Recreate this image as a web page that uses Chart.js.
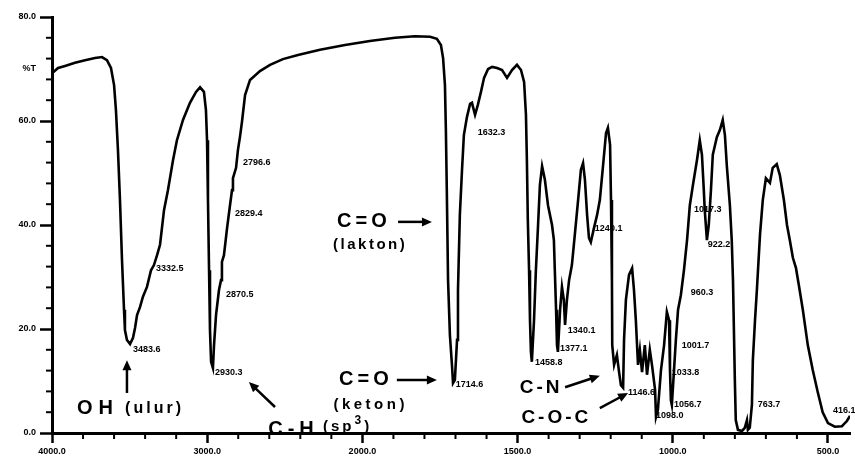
<!DOCTYPE html>
<html>
<head>
<meta charset="utf-8">
<script src="https://cdn.jsdelivr.net/npm/chart.js@4.4.1/dist/chart.umd.min.js"></script>
<style>
  html, body { margin: 0; padding: 0; background: #fff; }
</style>
</head>
<body>
<canvas id="ir-spectrum" width="855" height="465"></canvas>
<script>
/* ── Spectrum data (wavenumber cm-1, %T) ── */
var wavenumbers = [
  4000, 3961, 3916, 3852, 3787, 3723, 3678, 3646, 3620, 3600, 3588, 3575, 3562, 3549, 3536, 3530,
  3517, 3497, 3478, 3465, 3452, 3433, 3414, 3388, 3362, 3343, 3323, 3304, 3278, 3253, 3220, 3195,
  3156, 3111, 3072, 3046, 3021, 3008, 3001, 2995, 2988, 2982, 2975, 2963, 2956, 2943, 2924, 2911,
  2905, 2892, 2872, 2853, 2840, 2834, 2814, 2802, 2789, 2776, 2756, 2724, 2660, 2595, 2512, 2415,
  2273, 2112, 1976, 1895, 1831, 1782, 1760, 1747, 1740, 1734, 1731, 1728, 1724, 1718, 1711, 1708,
  1702, 1695, 1692, 1686, 1679, 1673, 1663, 1653, 1647, 1637, 1628, 1618, 1608, 1595, 1582, 1566,
  1550, 1534, 1518, 1502, 1489, 1479, 1473, 1470, 1467, 1463, 1460, 1457, 1454, 1447, 1441, 1434,
  1428, 1421, 1412, 1402, 1389, 1383, 1380, 1376, 1373, 1370, 1363, 1357, 1351, 1347, 1341, 1334,
  1325, 1315, 1305, 1296, 1289, 1283, 1276, 1270, 1264, 1254, 1244, 1235, 1225, 1215, 1209, 1202,
  1199, 1196, 1195, 1189, 1180, 1173, 1167, 1160, 1157, 1151, 1141, 1131, 1125, 1119, 1112, 1106,
  1099, 1090, 1083, 1074, 1067, 1057, 1054, 1048, 1038, 1028, 1019, 1012, 1009, 1006, 1003, 996,
  990, 983, 974, 964, 954, 945, 935, 922, 913, 906, 900, 897, 890, 884, 877, 871,
  858, 848, 839, 832, 826, 816, 810, 806, 803, 800, 797, 790, 777, 768, 761, 758,
  752, 745, 742, 735, 729, 719, 710, 700, 687, 678, 665, 655, 642, 632, 623, 613,
  603, 594, 581, 565, 549, 533, 517, 500, 478, 455, 439, 429
];
var transmittance = [
  69.2, 70.2, 70.6, 71.2, 71.7, 72.1, 72.3, 71.7, 70.2, 66.9, 62.1, 54.4, 44.8, 33.3, 23.7, 19.8,
  17.9, 17.1, 18.3, 20.2, 22.7, 24.2, 26.2, 28.1, 31.3, 32.3, 34.2, 36.2, 42.9, 46.7, 52.5, 56.3,
  60.2, 63.5, 65.6, 66.5, 65.6, 62.1, 56.3, 44.8, 31.3, 19.8, 13.7, 12.5, 16.9, 22.7, 27.5, 29.4,
  32.9, 34.2, 39.4, 43.8, 46.7, 49.0, 51.0, 54.4, 56.9, 59.8, 65.0, 67.9, 69.6, 70.8, 71.9, 72.7,
  73.7, 74.6, 75.4, 76.0, 76.3, 76.2, 75.8, 74.6, 72.1, 66.9, 58.3, 46.7, 29.4, 18.8, 12.7, 9.6,
  10.2, 17.9, 27.5, 41.9, 50.6, 57.3, 60.8, 63.3, 63.5, 61.2, 63.1, 65.6, 68.3, 70.0, 70.4, 70.2,
  69.8, 68.3, 69.8, 70.8, 69.8, 67.5, 61.2, 52.5, 41.0, 31.3, 21.7, 15.6, 13.7, 21.7, 31.3, 40.0,
  47.7, 51.3, 48.7, 43.8, 40.0, 37.1, 31.3, 23.7, 16.9, 15.6, 23.7, 28.1, 25.6, 20.8, 25.6, 29.4,
  32.3, 38.5, 44.8, 50.6, 51.9, 48.7, 41.9, 37.5, 36.7, 39.4, 41.9, 44.8, 51.2, 57.7, 58.7, 55.4,
  44.8, 29.4, 16.9, 13.1, 15.0, 11.7, 9.2, 8.7, 17.9, 25.6, 30.4, 31.7, 27.5, 21.7, 13.1, 16.0,
  11.7, 16.9, 11.2, 16.0, 13.1, 8.3, 3.1, 4.4, 12.1, 16.9, 23.3, 21.7, 12.1, 6.3, 5.4, 12.1,
  17.9, 23.7, 26.5, 31.3, 37.1, 43.8, 47.7, 52.5, 56.3, 53.5, 46.7, 42.9, 37.1, 40.0, 46.7, 53.5,
  56.9, 58.3, 60.2, 57.3, 51.5, 43.8, 37.1, 29.4, 19.8, 10.2, 2.5, 0.6, 0.4, 1.0, 2.5, 0.6,
  1.0, 5.4, 14.0, 21.7, 27.5, 38.1, 44.8, 49.0, 48.1, 51.0, 51.7, 49.6, 44.8, 40.0, 37.1, 33.7,
  31.7, 28.5, 23.7, 16.9, 12.1, 7.9, 4.0, 1.9, 1.2, 1.3, 2.3, 3.3
];

/* ── Axis ticks ── */
var xTickValues = [4000, 3000, 2000, 1500, 1000, 500];
var xMinorValues = [3800, 3600, 3400, 3200, 2800, 2600, 2400, 2200, 1900, 1800, 1700, 1600,
                    1400, 1300, 1200, 1100, 900, 800, 700, 600];
var yTickValues = [0, 20, 40, 60, 70, 80];
var yTickLabels = ['0.0', '20.0', '40.0', '60.0', '%T', '80.0'];
var yMinorValues = [4, 8, 12, 16, 24, 28, 32, 36, 44, 48, 52, 56, 64, 68, 72, 76];

/* ── Peak labels printed on the trace ── */
var peakText = ['3483.6', '3332.5', '2930.3', '2870.5', '2829.4', '2796.6', '1632.3', '1714.6',
                '1458.8', '1377.1', '1340.1', '1240.1', '1146.6', '1098.0', '1056.7', '1033.8',
                '1001.7', '960.3', '1017.3', '922.2', '763.7', '416.1'];
var peakWn   = [3478, 3330, 2950, 2879, 2821, 2769, 1628, 1699, 1444, 1363, 1338, 1251,
                1144, 1054, 996, 1003, 971, 942, 932, 887, 726, 484];
var peakT    = [16.0, 31.7, 11.7, 26.7, 42.3, 52.1, 57.7, 9.4, 13.5, 16.2, 19.8, 39.4,
                7.7, 3.3, 5.4, 11.7, 16.9, 27.1, 42.9, 36.2, 5.4, 4.4];

// the recorder expands the scale 2x below 2000 cm-1
function toPos(wn) {
    return wn >= 2000 ? (4000 - wn) / 1000 : 2 + (2000 - wn) / 500;
}
function fromPos(p) {
    return p <= 2 ? 4000 - p * 1000 : 2000 - (p - 2) * 500;
}

var points = wavenumbers.map(function (wn, i) {
    return { x: toPos(wn), y: transmittance[i] };
});

/* ── Band assignments (big hand lettering) ── */
var bandNotes = [
    { text: 'C=O', wn: 2003, t: 40.6, size: 20, gap: 4 },
    { text: '(lakton)', wn: 1979, t: 36.2, size: 15, gap: 2.5 },
    { text: 'OH', wn: 3723, t: 4.8, size: 20, gap: 6 },
    { text: '(ulur)', wn: 3349, t: 4.6, size: 16, gap: 3 },
    { text: 'C-H', wn: 2460, t: 0.6, size: 20, gap: 5 },
    { text: 'C=O', wn: 1995, t: 10.2, size: 20, gap: 4 },
    { text: '(keton)', wn: 1979, t: 5.4, size: 15, gap: 3.5 },
    { text: 'C-N', wn: 1429, t: 8.7, size: 19, gap: 3 },
    { text: 'C-O-C', wn: 1380, t: 2.9, size: 19, gap: 3 }
];
var bandArrows = [
    { from: [1885, 40.6], to: [1776, 40.6] },
    { from: [3517, 7.7], to: [3517, 14.0] },
    { from: [2563, 5.0], to: [2731, 9.8] },
    { from: [1889, 10.2], to: [1760, 10.2] },
    { from: [1347, 8.8], to: [1235, 11.0] },
    { from: [1235, 4.8], to: [1144, 7.7] }
];

function drawArrow(ctx, x1, y1, x2, y2) {
    var a = Math.atan2(y2 - y1, x2 - x1), L = 10, W = 4.5;
    ctx.beginPath();
    ctx.moveTo(x1, y1);
    ctx.lineTo(x2 - Math.cos(a) * L * 0.8, y2 - Math.sin(a) * L * 0.8);
    ctx.stroke();
    ctx.beginPath();
    ctx.moveTo(x2, y2);
    ctx.lineTo(x2 - Math.cos(a) * L - Math.sin(a) * W, y2 - Math.sin(a) * L + Math.cos(a) * W);
    ctx.lineTo(x2 - Math.cos(a) * L + Math.sin(a) * W, y2 - Math.sin(a) * L - Math.cos(a) * W);
    ctx.closePath();
    ctx.fill();
}

var spectrumNotes = {
    id: 'spectrumNotes',
    afterDatasetsDraw: function (chart) {
        var ctx = chart.ctx, xs = chart.scales.x, ys = chart.scales.y;
        var px = function (wn) { return xs.getPixelForValue(toPos(wn)); };
        var py = function (t) { return ys.getPixelForValue(t); };
        ctx.save();
        ctx.fillStyle = '#000';
        ctx.strokeStyle = '#000';

        // minor ticks
        ctx.lineWidth = 2;
        xMinorValues.forEach(function (wn) {
            var x = px(wn);
            ctx.beginPath(); ctx.moveTo(x, ys.bottom - 1); ctx.lineTo(x, ys.bottom + 6); ctx.stroke();
        });
        yMinorValues.forEach(function (t) {
            var y = py(t);
            ctx.beginPath(); ctx.moveTo(xs.left - 6, y); ctx.lineTo(xs.left + 1, y); ctx.stroke();
        });

        // peak labels
        ctx.font = 'bold 9px "Liberation Sans", Arial, sans-serif';
        ctx.textAlign = 'left';
        ctx.textBaseline = 'middle';
        peakText.forEach(function (s, i) {
            ctx.fillText(s, px(peakWn[i]), py(peakT[i]));
        });

        // band assignments
        ctx.textAlign = 'center';
        bandNotes.forEach(function (n) {
            ctx.font = 'bold ' + n.size + 'px "Liberation Sans", Arial, sans-serif';
            ctx.letterSpacing = n.gap + 'px';
            ctx.fillText(n.text, px(n.wn) + n.gap / 2, py(n.t));
        });

        // (sp3) with raised 3
        ctx.textAlign = 'left';
        ctx.letterSpacing = '3px';
        ctx.font = 'bold 15px "Liberation Sans", Arial, sans-serif';
        var sx = px(2254), sy = py(1.2);
        ctx.fillText('(sp', sx, sy);
        sx += ctx.measureText('(sp').width;
        ctx.font = 'bold 12px "Liberation Sans", Arial, sans-serif';
        ctx.fillText('3', sx, sy - 6);
        sx += ctx.measureText('3').width;
        ctx.font = 'bold 15px "Liberation Sans", Arial, sans-serif';
        ctx.fillText(')', sx, sy);
        ctx.letterSpacing = '0px';

        ctx.lineWidth = 2.5;
        bandArrows.forEach(function (a) {
            drawArrow(ctx, px(a.from[0]), py(a.from[1]), px(a.to[0]), py(a.to[1]));
        });
        ctx.restore();
    }
};

new Chart(document.getElementById('ir-spectrum').getContext('2d'), {
    type: 'scatter',
    data: {
        datasets: [{
            data: points,
            showLine: true,
            borderColor: '#000',
            borderWidth: 2.6,
            pointRadius: 0,
            tension: 0
        }]
    },
    options: {
        responsive: false,
        animation: false,
        layout: { padding: { top: 17, right: 5, left: 0, bottom: 0 } },
        plugins: { legend: { display: false }, tooltip: { enabled: false } },
        scales: {
            x: {
                type: 'linear',
                min: 0,
                max: 5.142,
                afterBuildTicks: function (scale) {
                    scale.ticks = xTickValues.map(function (wn) { return { value: toPos(wn) }; });
                },
                afterFit: function (scale) { scale.height = 32; },
                ticks: {
                    autoSkip: false,
                    maxRotation: 0,
                    padding: 3,
                    color: '#000',
                    font: { family: '"Liberation Sans", Arial, sans-serif', size: 9, weight: 'bold' },
                    callback: function (v) { return Math.round(fromPos(v)).toFixed(1); }
                },
                grid: { drawOnChartArea: false, tickLength: 10, tickWidth: 2.5, tickColor: '#000' },
                border: { color: '#000', width: 3 }
            },
            y: {
                min: 0,
                max: 80,
                afterBuildTicks: function (scale) {
                    scale.ticks = yTickValues.map(function (v) { return { value: v }; });
                },
                afterFit: function (scale) { scale.width = 52; },
                ticks: {
                    autoSkip: false,
                    padding: 4,
                    color: '#000',
                    font: { family: '"Liberation Sans", Arial, sans-serif', size: 9, weight: 'bold' },
                    callback: function (v) { return yTickLabels[yTickValues.indexOf(v)]; }
                },
                grid: {
                    drawOnChartArea: false,
                    tickLength: 12,
                    tickWidth: 2.5,
                    tickColor: function (c) { return c.tick && c.tick.value === 70 ? 'rgba(0,0,0,0)' : '#000'; }
                },
                border: { color: '#000', width: 3 }
            }
        }
    },
    plugins: [spectrumNotes]
});
</script>
</body>
</html>
